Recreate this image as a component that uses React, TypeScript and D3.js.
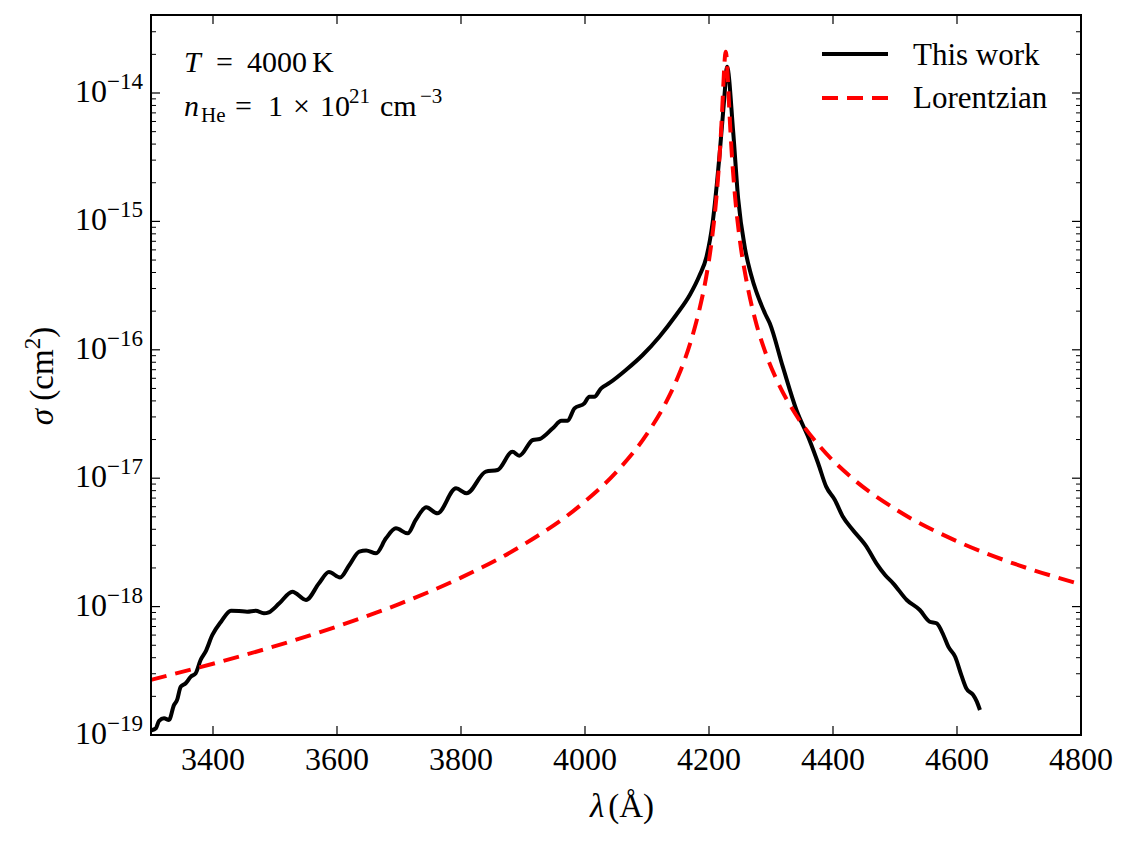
import React from 'react';
import * as d3 from 'd3';

// Ca-He cross section, wavelengths in Å, sigma in cm^2
const lambdaThisWork = [
  3301, 3308, 3313, 3321, 3329, 3337, 3342, 3348, 3356, 3364, 3372, 3380, 3388, 3399,
  3413, 3429, 3442, 3455, 3469, 3482, 3490, 3507, 3528, 3550, 3571, 3587, 3605, 3620,
  3636, 3647, 3663, 3679, 3695, 3714, 3727, 3744, 3762, 3792, 3809, 3840, 3859, 3883,
  3894, 3916, 3927, 3948, 3962, 3972, 3983, 3999, 4007, 4015, 4026, 4040, 4066, 4093,
  4120, 4147, 4169, 4185, 4196, 4206, 4217, 4225, 4229, 4239, 4247, 4258, 4268, 4290,
  4298, 4319, 4341, 4362, 4376, 4389, 4403, 4416, 4432, 4454, 4470, 4484, 4497, 4519,
  4540, 4556, 4567, 4578, 4586, 4597, 4607, 4615, 4626, 4632, 4637,
];
const sigmaThisWork = [
  1.09e-19, 1.13e-19, 1.29e-19, 1.35e-19, 1.31e-19, 1.71e-19, 1.87e-19, 2.38e-19, 2.53e-19,
  2.84e-19, 3.02e-19, 3.84e-19, 4.46e-19, 6.01e-19, 7.63e-19, 9.29e-19, 9.24e-19, 9.13e-19,
  9.29e-19, 8.87e-19, 9.03e-19, 1.061e-18, 1.306e-18, 1.126e-18, 1.519e-18, 1.86e-18,
  1.685e-18, 2.11e-18, 2.68e-18, 2.73e-18, 2.6e-18, 3.4e-18, 4.07e-18, 3.72e-18, 4.73e-18,
  5.93e-18, 5.33e-18, 8.34e-18, 7.63e-18, 1.124e-17, 1.158e-17, 1.608e-17, 1.497e-17,
  1.984e-17, 2.02e-17, 2.447e-17, 2.8e-17, 2.8e-17, 3.5e-17, 3.83e-17, 4.31e-17, 4.31e-17,
  5.01e-17, 5.54e-17, 6.96e-17, 9.11e-17, 1.265e-16, 1.866e-16, 2.67e-16, 3.82e-16,
  5.31e-16, 9.89e-16, 3.29e-15, 9.6e-15, 1.6e-14, 4.99e-15, 1.51e-15, 6.17e-16, 3.82e-16,
  1.935e-16, 1.609e-16, 7.39e-17, 3.4e-17, 1.984e-17, 1.307e-17, 8.59e-18, 6.77e-18,
  5.01e-18, 3.95e-18, 2.93e-18, 2.17e-18, 1.762e-18, 1.519e-18, 1.126e-18, 9.41e-19,
  7.63e-19, 7.41e-19, 6.01e-19, 4.87e-19, 4.07e-19, 2.93e-19, 2.31e-19, 2.05e-19, 1.82e-19,
  1.566e-19,
];

const lambdaLorentz = [
  3300, 3400, 3500, 3600, 3700, 3800, 3900, 4000, 4050, 4100, 4130, 4150, 4170, 4185, 4195,
  4205, 4212, 4217, 4220, 4222, 4224, 4225, 4226, 4227, 4228, 4229, 4230, 4232, 4234, 4237,
  4242, 4250, 4260, 4275, 4290, 4310, 4340, 4380, 4430, 4500, 4600, 4700, 4800,
];
const sigmaLorentz = [
  2.69e-19, 3.59e-19, 4.92e-19, 7.0e-19, 1.046e-18, 1.681e-18, 3.02e-18, 6.59e-18,
  1.111e-17, 2.212e-17, 3.847e-17, 6.165e-17, 1.136e-16, 2.107e-16, 3.584e-16, 7.47e-16,
  1.549e-15, 3.195e-15, 5.633e-15, 8.78e-15, 1.398e-14, 1.718e-14, 1.989e-14, 2.099e-14,
  1.99e-14, 1.72e-14, 1.4e-14, 8.8e-15, 5.668e-15, 3.226e-15, 1.571e-15, 7.006e-16,
  3.537e-16, 1.684e-16, 9.843e-17, 5.724e-17, 3.131e-17, 1.74e-17, 1.011e-17, 5.767e-18,
  3.228e-18, 2.096e-18, 1.49e-18,
];

const xTickValues = [3400, 3600, 3800, 4000, 4200, 4400, 4600, 4800];
const yDecades = [-19, -18, -17, -16, -15, -14];

const W = 1130;
const H = 841;
const box = { left: 151, top: 15, right: 1081, bottom: 735 };
const serif = "'Liberation Serif', 'Times New Roman', serif";

export default function App() {
  const x = d3.scaleLinear().domain([3300, 4800]).range([box.left, box.right]);
  const y = d3.scaleLog().domain([1e-19, 4.05e-14]).range([box.bottom, box.top]);

  const line = d3
    .line<[number, number]>()
    .x((d) => x(d[0]))
    .y((d) => y(d[1]))
    .curve(d3.curveMonotoneX);

  const thisWork = line(lambdaThisWork.map((l, i) => [l, sigmaThisWork[i]]) as [number, number][]);
  const lorentz = line(lambdaLorentz.map((l, i) => [l, sigmaLorentz[i]]) as [number, number][]);

  const minor: number[] = [];
  yDecades.forEach((e) => {
    for (let m = 2; m <= 9; m++) {
      const v = m * Math.pow(10, e);
      if (v < 4.0e-14) minor.push(v);
    }
  });

  const majorLen = 9;
  const minorLen = 5;

  return (
    <div style={{ position: 'absolute', left: 0, top: 0 }}>
      <svg width={W} height={H} style={{ display: 'block', background: '#fff' }} fontFamily={serif}>
        <defs>
          <clipPath id="plot-clip">
            <rect x={box.left} y={box.top} width={box.right - box.left} height={box.bottom - box.top} />
          </clipPath>
        </defs>

        <g clipPath="url(#plot-clip)" fill="none" strokeLinejoin="round">
          <path d={thisWork ?? ''} stroke="#000" strokeWidth={4} />
          <path d={lorentz ?? ''} stroke="#ff0000" strokeWidth={4} strokeDasharray="16 9" />
        </g>

        {/* x ticks, top and bottom, pointing inward */}
        {xTickValues.map((t) => (
          <g key={`xt${t}`} stroke="#000" strokeWidth={1.2}>
            <line x1={x(t)} x2={x(t)} y1={box.bottom} y2={box.bottom - majorLen} />
            <line x1={x(t)} x2={x(t)} y1={box.top} y2={box.top + majorLen} />
          </g>
        ))}
        {xTickValues.map((t) => (
          <text key={`xl${t}`} x={x(t)} y={770} fontSize={32} textAnchor="middle">
            {t}
          </text>
        ))}

        {/* y ticks on both sides */}
        {yDecades.map((e) => {
          const yy = y(Math.pow(10, e));
          return (
            <g key={`yt${e}`} stroke="#000" strokeWidth={1.2}>
              <line x1={box.left} x2={box.left + majorLen} y1={yy} y2={yy} />
              <line x1={box.right} x2={box.right - majorLen} y1={yy} y2={yy} />
            </g>
          );
        })}
        {minor.map((v, i) => {
          const yy = y(v);
          return (
            <g key={`ym${i}`} stroke="#000" strokeWidth={1}>
              <line x1={box.left} x2={box.left + minorLen} y1={yy} y2={yy} />
              <line x1={box.right} x2={box.right - minorLen} y1={yy} y2={yy} />
            </g>
          );
        })}
        {yDecades.map((e) => (
          <text key={`yl${e}`} x={143} y={y(Math.pow(10, e)) + 9} textAnchor="end" fontSize={32}>
            <tspan>10</tspan>
            <tspan dy={-13} fontSize={23}>{`\u2212${Math.abs(e)}`}</tspan>
          </text>
        ))}

        <rect
          x={box.left}
          y={box.top}
          width={box.right - box.left}
          height={box.bottom - box.top}
          fill="none"
          stroke="#000"
          strokeWidth={2}
        />

        {/* axis labels */}
        <text x={622} y={817} fontSize={33} textAnchor="middle">
          <tspan fontStyle="italic">λ</tspan>
          <tspan dx={4}>(Å)</tspan>
        </text>
        <text transform="translate(53,376) rotate(-90)" fontSize={33} textAnchor="middle">
          <tspan fontStyle="italic">σ</tspan>
          <tspan> (cm</tspan>
          <tspan dy={-13} fontSize={23}>2</tspan>
          <tspan dy={13}>)</tspan>
        </text>

        {/* conditions */}
        <g fontSize={30}>
          <text x={184} y={72} fontStyle="italic">T</text>
          <text x={216} y={72}>=</text>
          <text x={247} y={72}>4000</text>
          <text x={312} y={72}>K</text>

          <text x={184} y={116} fontStyle="italic">n</text>
          <text x={201} y={122} fontSize={21}>He</text>
          <text x={235} y={116}>=</text>
          <text x={268} y={116}>1</text>
          <text x={293} y={116}>×</text>
          <text x={320} y={116}>10</text>
          <text x={349} y={103} fontSize={21}>21</text>
          <text x={380} y={116}>cm</text>
          <text x={420} y={103} fontSize={21}>{'\u22123'}</text>
        </g>

        {/* legend */}
        <line x1={822} x2={888} y1={54} y2={54} stroke="#000" strokeWidth={4} />
        <line x1={822} x2={888} y1={98} y2={98} stroke="#ff0000" strokeWidth={4} strokeDasharray="16 9" />
        <text x={913} y={65} fontSize={31}>This work</text>
        <text x={913} y={108} fontSize={31}>Lorentzian</text>
      </svg>
    </div>
  );
}
